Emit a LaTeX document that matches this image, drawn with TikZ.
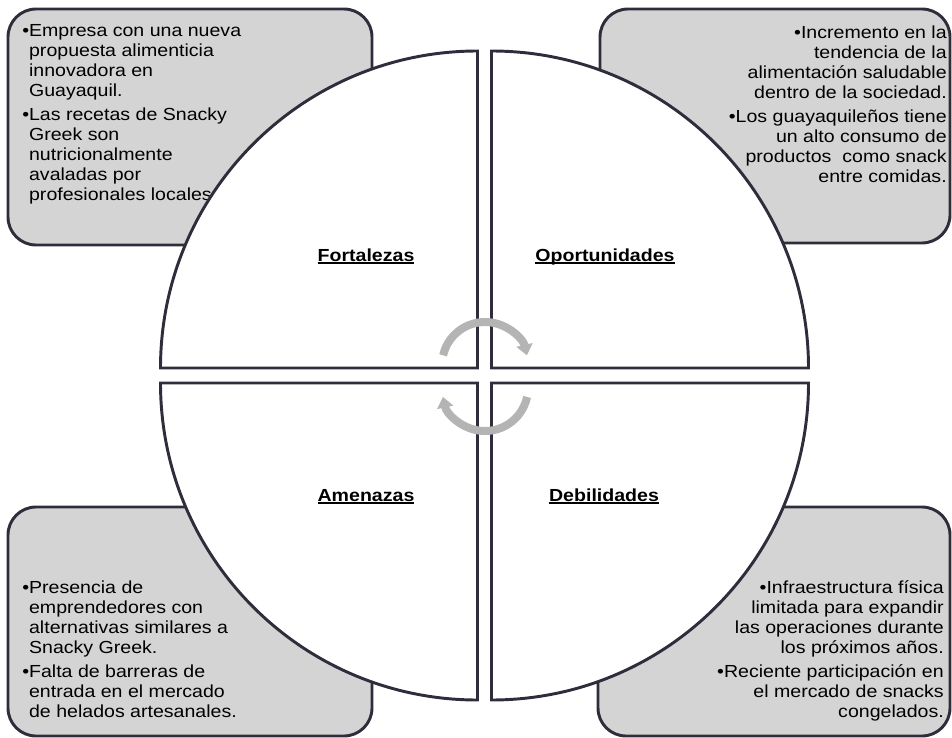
\documentclass[tikz,border=0pt]{standalone}
\usepackage{fontspec}
\newfontfamily\swotfont[FakeStretch=1.12]{Liberation Sans}
\usetikzlibrary{arrows.meta}
\definecolor{swotline}{RGB}{46,45,60}
\definecolor{swotbox}{RGB}{212,212,212}
\definecolor{swotarrow}{RGB}{180,180,180}
% underline drawn as a rule just below the baseline
\newcommand\swotul[1]{\setbox0\hbox{#1}\rlap{\rule[-2.2pt]{\wd0}{1.2pt}}\box0}
\begin{document}
\begin{tikzpicture}[x=0.75pt,y=-0.75pt,
  infobox/.style={draw=swotline, line width=2.2pt, fill=swotbox, rounded corners=21pt},
  quadrant/.style={draw=swotline, line width=2.2pt, fill=white},
  bodytext/.style={font=\swotfont\fontsize{13.1pt}{15pt}\selectfont, inner sep=0pt, text=black},
  quadlabel/.style={font=\swotfont\bfseries\fontsize{13.1pt}{15pt}\selectfont, inner sep=0pt, anchor=base, text=black},
  cyclearrow/.style={draw=swotarrow, line width=6pt, -{Triangle[width=12pt,length=8pt]}}
]
\useasboundingbox (0,0) rectangle (952,738);

% grey corner boxes
\draw[infobox] (8,9) rectangle (372,245);
\draw[infobox] (600,9) rectangle (950,243);
\draw[infobox] (8,507) rectangle (372,736);
\draw[infobox] (598,507) rectangle (950,736);

% box texts
\node[bodytext, anchor=north west, align=left] (fortext) at (22,24.5)
  {•Empresa con una nueva\\
   \hphantom{•}propuesta alimenticia\\
   \hphantom{•}innovadora en\\
   \hphantom{•}Guayaquil.\\[3pt]
   •Las recetas de Snacky\\
   \hphantom{•}Greek son\\
   \hphantom{•}nutricionalmente\\
   \hphantom{•}avaladas por\\
   \hphantom{•}profesionales locales};
\node[bodytext, anchor=north east, align=right] (oportext) at (947,25.5)
  {•Incremento en la\\
   tendencia de la\\
   alimentación saludable\\
   dentro de la sociedad.\\[3pt]
   •Los guayaquileños tiene\\
   un alto consumo de\\
   productos \ como snack\\
   entre comidas.};
\node[bodytext, anchor=north west, align=left] (amentext) at (22,580.5)
  {•Presencia de\\
   \hphantom{•}emprendedores con\\
   \hphantom{•}alternativas similares a\\
   \hphantom{•}Snacky Greek.\\[3pt]
   •Falta de barreras de\\
   \hphantom{•}entrada en el mercado\\
   \hphantom{•}de helados artesanales.};
\node[bodytext, anchor=north east, align=right] (debitext) at (944,580.5)
  {•Infraestructura física\\
   limitada para expandir\\
   las operaciones durante\\
   los próximos años.\\[3pt]
   •Reciente participación en\\
   el mercado de snacks\\
   congelados.};

% four quarter discs
\draw[quadrant] (477.5,368) -- ++(-317,0) arc[start angle=180, end angle=270, radius=317] -- cycle;
\draw[quadrant] (491.5,368) -- ++(0,-317) arc[start angle=270, end angle=360, radius=317] -- cycle;
\draw[quadrant] (477.5,383) -- ++(0,317) arc[start angle=90, end angle=180, radius=317] -- cycle;
\draw[quadrant] (491.5,383) -- ++(317,0) arc[start angle=0, end angle=90, radius=317] -- cycle;

% quadrant titles
\node[quadlabel] (fortalezas) at (366,261) {\swotul{Fortalezas}};
\node[quadlabel] (oportunidades) at (605,261) {\swotul{Oportunidades}};
\node[quadlabel] (amenazas) at (366,501) {\swotul{Amenazas}};
\node[quadlabel] (debilidades) at (604,501) {\swotul{Debilidades}};

% circular arrows in the centre
\draw[cyclearrow] (485,365) ++(193:43) arc[start angle=193, end angle=347, radius=43];
\draw[cyclearrow] (485,388) ++(12:43) arc[start angle=12, end angle=168, radius=43];
\end{tikzpicture}
\end{document}
